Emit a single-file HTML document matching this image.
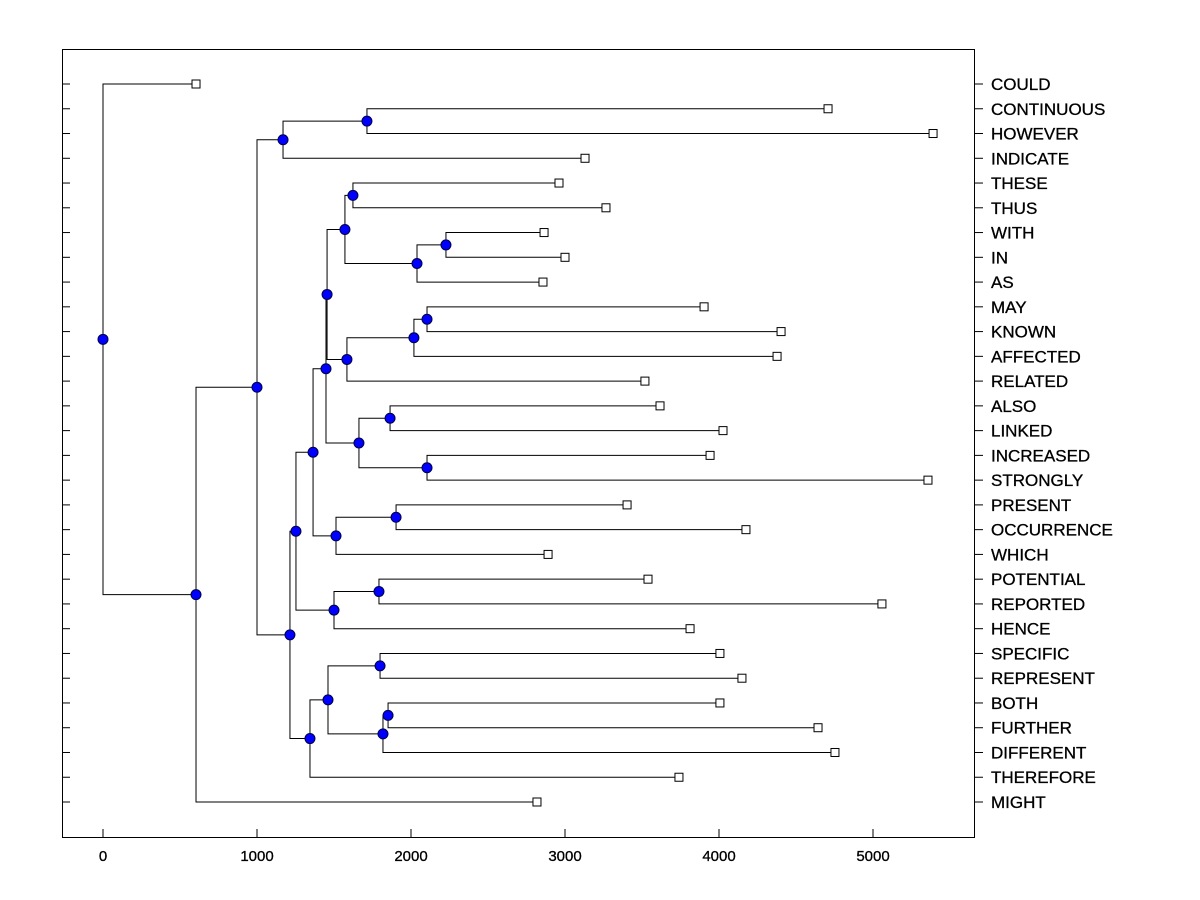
<!DOCTYPE html>
<html><head><meta charset="utf-8"><style>
body{margin:0;background:#fff}
svg{display:block}
text{font-family:"Liberation Sans",Arial,sans-serif}
</style></head><body>
<svg id="chart" width="1200" height="900" viewBox="0 0 1200 900" xmlns="http://www.w3.org/2000/svg">
<rect x="62.5" y="49.5" width="912" height="788" fill="none" stroke="#000" stroke-width="1"/>
<g id="g-ticks"></g>
<g id="g-links"></g>
<g id="g-nodes"></g>
<g id="g-labels"></g>
</svg>
<script>
const leafNames=["COULD","CONTINUOUS","HOWEVER","INDICATE","THESE","THUS","WITH","IN","AS","MAY","KNOWN","AFFECTED","RELATED","ALSO","LINKED","INCREASED","STRONGLY","PRESENT","OCCURRENCE","WHICH","POTENTIAL","REPORTED","HENCE","SPECIFIC","REPRESENT","BOTH","FURTHER","DIFFERENT","THEREFORE","MIGHT"];
const leafValues=[604,4708,5390,3130,2961,3266,2864,3000,2857,3903,4403,4377,3519,3617,4026,3942,5357,3403,4175,2890,3539,5058,3812,4006,4149,4006,4643,4753,3740,2818];
// merges in order; "L#" = leaf index, "m#" = earlier merge index
const mergeChildA=["L1","m0","L4","L6","m3","m2","L9","m6","m7","m5","L13","L15","m10","m9","L17","m14","m13","L20","m17","m16","L23","L25","m21","m20","m23","m19","m1","m26","L0"];
const mergeChildB=["L2","L3","L5","L7","L8","m4","L10","L11","L12","m8","L14","L16","m11","m12","L18","L19","m15","L21","L22","m18","L24","L26","L27","m22","L28","m24","m25","L29","m27"];
const mergeHeights=[1714,1169,1623,2227,2039,1571,2104,2019,1584,1455,1864,2104,1662,1448,1903,1513,1364,1792,1500,1253,1799,1851,1818,1461,1344,1214,1000,604,0];
const xTicks=[0,1000,2000,3000,4000,5000];
</script>
<script>
const NS="http://www.w3.org/2000/svg";
const xs=v=>103+v*0.154;
const ys=i=>84+i*(802-84)/29;
const all={};
leafNames.forEach((n,i)=>{all["L"+i]={x:xs(leafValues[i]),y:ys(i)};});
const gL=document.getElementById('g-links'),gN=document.getElementById('g-nodes'),gT=document.getElementById('g-labels'),gK=document.getElementById('g-ticks');
function mk(t,a,p){const e=document.createElementNS(NS,t);for(const k in a)e.setAttribute(k,a[k]);p.appendChild(e);return e;}
mergeHeights.forEach((h,k)=>{
  const A=all[mergeChildA[k]],B=all[mergeChildB[k]];
  const x=xs(h),y=(A.y+B.y)/2;
  all["m"+k]={x,y};
  const p=mk('path',{d:`M${A.x},${A.y}H${x}V${B.y}H${B.x}`,fill:'none',stroke:'#000','stroke-width':1},gL);
  
  
});
mergeHeights.forEach((h,k)=>{
  const n=all["m"+k];
  const c=mk('circle',{cx:n.x,cy:n.y,r:5,fill:'#0000ff',stroke:'#000044','stroke-width':1},gN);
  
  
});
leafNames.forEach((name,i)=>{
  const n=all["L"+i];
  const r=mk('rect',{x:n.x-4,y:n.y-4,width:8,height:8,fill:'#fff',stroke:'#000','stroke-width':1},gN);
  
  
  const t=mk('text',{x:991,y:n.y+6,'font-size':17,stroke:'#000','stroke-width':0.3},gT);t.textContent=name;
  
  
  const tk=mk('line',{x1:62,x2:70,y1:n.y,y2:n.y,stroke:'#000'},gK);
  
  
  const tk2=mk('line',{x1:975,x2:983,y1:n.y,y2:n.y,stroke:'#000'},gK);
  
  
});
xTicks.forEach(v=>{
  const tl=mk('line',{x1:xs(v),x2:xs(v),y1:829,y2:837,stroke:'#000'},gK);
  
  
  const t=mk('text',{x:xs(v),y:861,'font-size':15,'text-anchor':'middle',stroke:'#000','stroke-width':0.3},gK);t.textContent=v;
  
  
});
</script>
</body></html>
